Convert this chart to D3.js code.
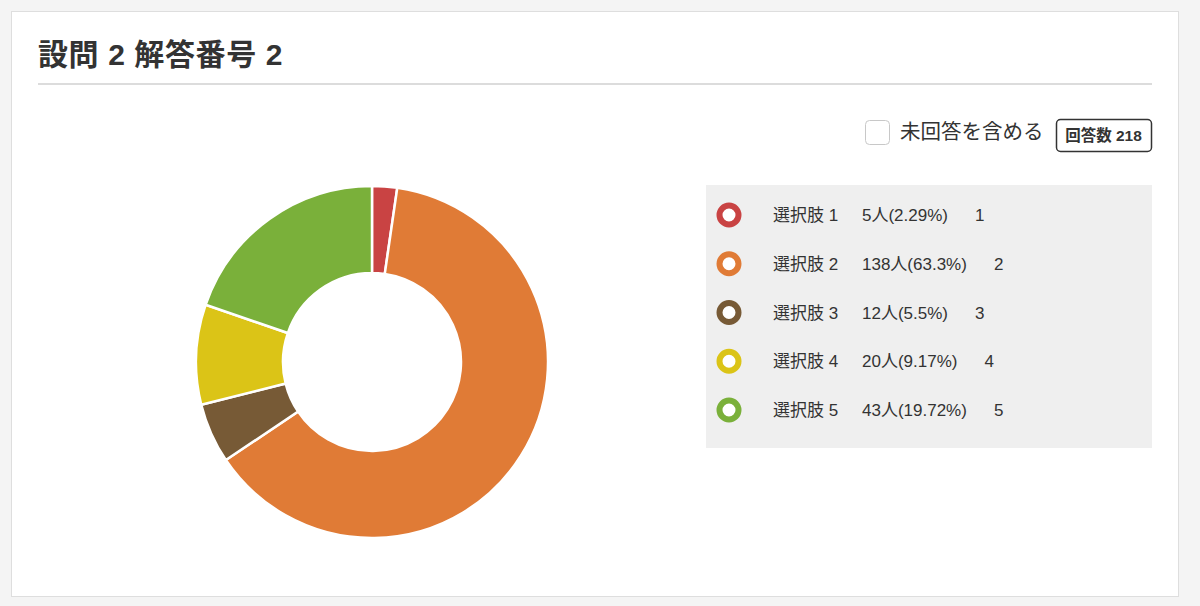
<!DOCTYPE html>
<html>
<head>
<meta charset="utf-8">
<script src="https://cdn.jsdelivr.net/npm/d3@7"></script>
<style>
  html, body { margin: 0; padding: 0; background: #f4f4f4; }
  svg { display: block; font-family: "Liberation Sans", "Noto Sans CJK JP", sans-serif; }
</style>
</head>
<body>
<svg id="chart" width="1200" height="606"></svg>
<script>
// values
var choices  = ["選択肢 1", "選択肢 2", "選択肢 3", "選択肢 4", "選択肢 5"];
var counts   = [5, 138, 12, 20, 43];
var percents = ["2.29", "63.3", "5.5", "9.17", "19.72"];
var codes    = ["1", "2", "3", "4", "5"];
var colors   = ["#c94343", "#e07b36", "#775a36", "#dbc417", "#7ab03a"];
var total    = 218;

var svg = d3.select("#chart");

// card
svg.append("rect")
    .attr("x", 11.5).attr("y", 11.5)
    .attr("width", 1167).attr("height", 585)
    .attr("fill", "#fff").attr("stroke", "#dedede");

svg.append("text")
    .attr("x", 38).attr("y", 65)
    .attr("font-size", "30px").attr("font-weight", "bold")
    .attr("letter-spacing", "0.6px")
    .attr("fill", "#333")
    .text("設問 2 解答番号 2");

svg.append("line")
    .attr("x1", 38).attr("x2", 1152)
    .attr("y1", 84).attr("y2", 84)
    .attr("stroke", "#dcdcdc").attr("stroke-width", 2);

// checkbox + count badge
svg.append("rect")
    .attr("x", 865.5).attr("y", 120.5)
    .attr("width", 24).attr("height", 24).attr("rx", 4)
    .attr("fill", "#fff").attr("stroke", "#c8c8c8");

svg.append("text")
    .attr("x", 900).attr("y", 139)
    .attr("font-size", "20.5px").attr("fill", "#333")
    .text("未回答を含める");

svg.append("rect")
    .attr("x", 1056.5).attr("y", 119.5)
    .attr("width", 95).attr("height", 32).attr("rx", 4)
    .attr("fill", "#fff").attr("stroke", "#333").attr("stroke-width", 1.5);

svg.append("text")
    .attr("x", 1103.5).attr("y", 141)
    .attr("text-anchor", "middle")
    .attr("font-size", "15.5px").attr("font-weight", "bold")
    .attr("fill", "#333")
    .text("回答数 " + total);

// donut
var cx = 372, cy = 362;
var pie = d3.pie().sort(null).value(function(d){ return d; });
var arc = d3.arc().innerRadius(89).outerRadius(176);

svg.append("g")
    .attr("transform", "translate(" + cx + "," + cy + ")")
  .selectAll("path")
  .data(pie(counts))
  .join("path")
    .attr("d", arc)
    .attr("fill", function(d, i){ return colors[i]; })
    .attr("stroke", "#fff").attr("stroke-width", 2.5);

// legend panel
svg.append("rect")
    .attr("x", 706).attr("y", 185)
    .attr("width", 446).attr("height", 263)
    .attr("fill", "#efefef");

var rowY = d3.scalePoint().domain(d3.range(choices.length)).range([215, 410]);

var rows = svg.append("g").selectAll("g")
  .data(choices)
  .join("g")
    .attr("transform", function(d, i){ return "translate(0," + rowY(i) + ")"; });

rows.append("circle")
    .attr("cx", 729).attr("cy", 0).attr("r", 9.5)
    .attr("fill", "#fff")
    .attr("stroke", function(d, i){ return colors[i]; })
    .attr("stroke-width", 6);

rows.append("text")
    .attr("x", 773).attr("y", 6)
    .attr("font-size", "17px").attr("fill", "#333")
    .each(function(d, i){
      var t = d3.select(this);
      t.append("tspan").text(d);
      t.append("tspan").attr("x", 862).text(counts[i] + "人(" + percents[i] + "%)");
      t.append("tspan").attr("dx", 27).text(codes[i]);
    });
</script>
</body>
</html>
